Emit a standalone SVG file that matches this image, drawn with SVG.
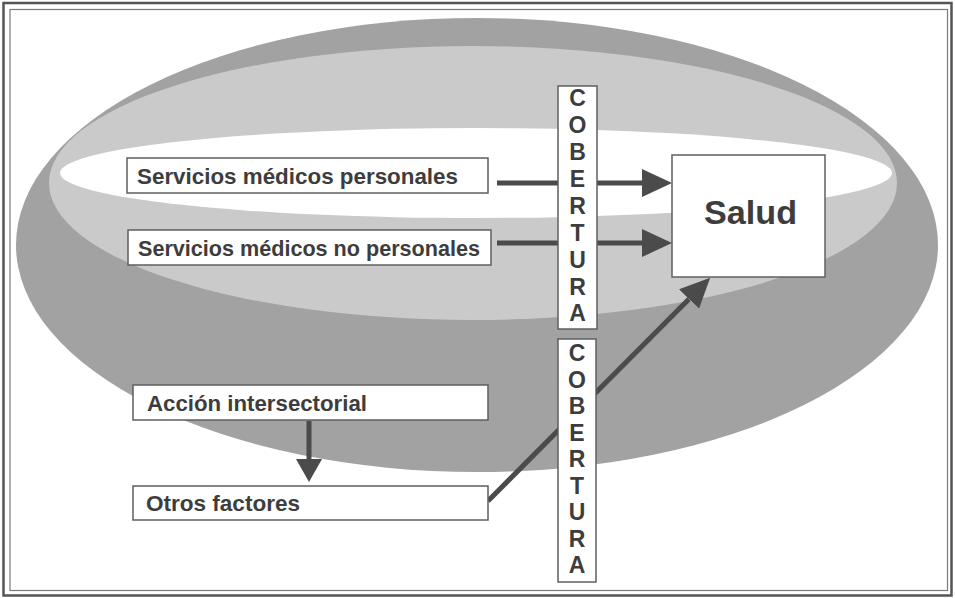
<svg xmlns="http://www.w3.org/2000/svg" width="955" height="598" viewBox="0 0 955 598">
  <defs>
    <style>
      .box { fill: #ffffff; stroke: #5f5f5f; stroke-width: 1.5; }
      .lbl { font-family: "Liberation Sans", Arial, sans-serif; font-weight: bold; font-size: 22px; fill: #3d3d3d; }
      .vert { font-family: "Liberation Sans", Arial, sans-serif; font-weight: bold; font-size: 23px; fill: #3d3d3d; text-anchor: middle; }
      .big { font-family: "Liberation Sans", Arial, sans-serif; font-weight: bold; font-size: 34px; fill: #3d3d3d; }
      .conn { stroke: #4b4b4b; stroke-width: 5; fill: none; }
    </style>
    <marker id="head" viewBox="0 -14 30 28" refX="0" refY="0" markerWidth="30" markerHeight="28" markerUnits="userSpaceOnUse" orient="auto">
      <path d="M0,-14 L30,0 L0,14 Z" fill="#4b4b4b"/>
    </marker>
    <marker id="headSmall" viewBox="0 -13 23 26" refX="0" refY="0" markerWidth="23" markerHeight="26" markerUnits="userSpaceOnUse" orient="auto">
      <path d="M0,-13 L23,0 L0,13 Z" fill="#4b4b4b"/>
    </marker>
  </defs>

  <!-- page background and double frame -->
  <rect x="0" y="0" width="955" height="598" fill="#ffffff"/>
  <rect x="3.5" y="3" width="948" height="592.5" fill="none" stroke="#555555" stroke-width="2.5"/>
  <rect x="10" y="9.5" width="937.5" height="581" fill="none" stroke="#7a7a7a" stroke-width="1.2"/>

  <!-- nested coverage zones -->
  <g id="zones">
    <ellipse cx="477" cy="245" rx="461" ry="227" fill="#a2a2a2"/>
    <ellipse cx="473" cy="183" rx="424" ry="137" fill="#cacaca"/>
    <ellipse cx="476" cy="173" rx="416" ry="45" fill="#ffffff"/>
  </g>

  <!-- connectors (drawn beneath the coverage bars) -->
  <g id="connectors">
    <line class="conn" x1="497" y1="183" x2="642" y2="183" marker-end="url(#head)"/>
    <line class="conn" x1="497" y1="243" x2="642" y2="243" marker-end="url(#head)"/>
    <line class="conn" x1="309" y1="421" x2="309" y2="459" marker-end="url(#headSmall)"/>
    <line class="conn" x1="488" y1="501" x2="689" y2="299" marker-end="url(#head)"/>
  </g>

  <g id="servicios-personales">
    <rect class="box" x="127" y="158" width="361" height="35"/>
    <text class="lbl" x="137" y="184" textLength="321" lengthAdjust="spacingAndGlyphs">Servicios médicos personales</text>
  </g>

  <g id="servicios-no-personales">
    <rect class="box" x="128" y="230" width="363" height="35"/>
    <text class="lbl" x="138" y="256" textLength="342" lengthAdjust="spacingAndGlyphs">Servicios médicos no personales</text>
  </g>

  <g id="accion-intersectorial">
    <rect class="box" x="133" y="385" width="355" height="35"/>
    <text class="lbl" x="147" y="411" textLength="220" lengthAdjust="spacingAndGlyphs">Acción intersectorial</text>
  </g>

  <g id="otros-factores">
    <rect class="box" x="133" y="486" width="355" height="34"/>
    <text class="lbl" x="146" y="511" textLength="154" lengthAdjust="spacingAndGlyphs">Otros factores</text>
  </g>

  <g id="salud">
    <rect class="box" x="672" y="155" width="153" height="122"/>
    <text class="big" x="704" y="224" textLength="93" lengthAdjust="spacingAndGlyphs">Salud</text>
  </g>

  <g id="cobertura-servicios">
    <rect class="box" x="558" y="86" width="39" height="243"/>
    <text class="vert" x="577.5" y="106">C</text>
    <text class="vert" x="577.5" y="133">O</text>
    <text class="vert" x="577.5" y="160">B</text>
    <text class="vert" x="577.5" y="187">E</text>
    <text class="vert" x="577.5" y="214">R</text>
    <text class="vert" x="577.5" y="241">T</text>
    <text class="vert" x="577.5" y="268">U</text>
    <text class="vert" x="577.5" y="295">R</text>
    <text class="vert" x="577.5" y="321">A</text>
  </g>

  <g id="cobertura-factores">
    <rect class="box" x="558" y="339" width="38" height="243"/>
    <text class="vert" x="577" y="361">C</text>
    <text class="vert" x="577" y="388">O</text>
    <text class="vert" x="577" y="414">B</text>
    <text class="vert" x="577" y="441">E</text>
    <text class="vert" x="577" y="467">R</text>
    <text class="vert" x="577" y="494">T</text>
    <text class="vert" x="577" y="520">U</text>
    <text class="vert" x="577" y="547">R</text>
    <text class="vert" x="577" y="573">A</text>
  </g>
</svg>
